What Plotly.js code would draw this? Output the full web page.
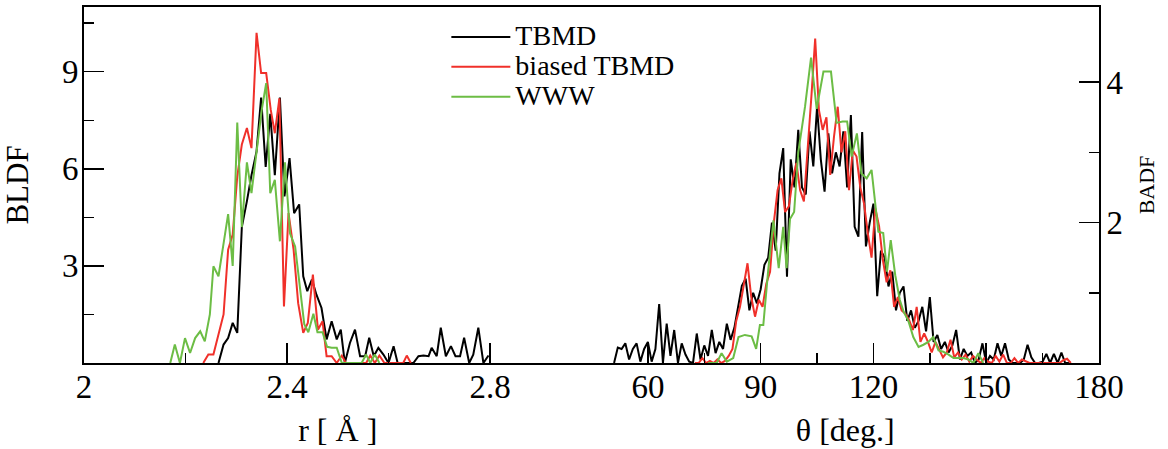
<!DOCTYPE html>
<html>
<head>
<meta charset="utf-8">
<script src="https://cdn.plot.ly/plotly-3.0.1.min.js"></script>
<style>html,body{margin:0;padding:0;background:#fff;}#chart{width:1168px;height:449px;}</style>
</head>
<body>
<div id="chart"></div>
<script>
// ---------- Bond-length distribution (left panel) ----------
var seriesNames = ["TBMD", "biased TBMD", "WWW"];
var seriesColors = ["#000000", "#f0302a", "#6cbd45"];

var bl_r_TBMD = [2.265,2.275,2.284,2.293,2.302,2.311,2.321,2.330,2.340,2.349,2.358,2.367,2.376,2.386,2.395,2.405,2.414,2.424,2.432,2.440,2.449,2.458,2.468,2.478,2.488,2.498,2.506,2.514,2.524,2.534,2.544,2.554,2.562,2.571,2.580,2.590,2.600,2.610,2.618,2.629,2.639,2.649,2.659,2.669,2.679,2.685,2.695,2.703,2.713,2.723,2.732,2.741,2.749,2.759,2.767,2.777,2.787,2.797];
var bl_y_TBMD = [0,0.57,0.77,1.24,0.93,4.2,5.0,5.8,6.54,8.2,6.06,7.7,5.8,8.2,5.15,6.33,4.63,4.9,2.68,2.22,2.58,2.11,1.70,0.73,1.29,0.73,1.03,0,0.62,1.03,0.21,0.21,0.78,0.21,0.47,0.26,0,0.52,0,0,0,0,0.21,0.23,0.21,0.47,0.21,1.09,0.21,0.52,0.21,0.21,0.78,0,0.26,1.09,0,0.23];

var bl_r_biased = [2.235,2.245,2.255,2.265,2.275,2.284,2.293,2.302,2.311,2.321,2.330,2.340,2.349,2.359,2.368,2.376,2.385,2.394,2.403,2.413,2.422,2.432,2.441,2.451,2.461,2.470,2.478,2.488,2.498,2.508,2.516,2.527,2.537,2.547,2.556,2.564,2.573,2.582,2.592,2.601,2.611,2.620,2.629,2.636,2.644];
var bl_y_biased = [0,0.26,0.26,0.93,1.5,3.5,3.97,5.77,6.75,7.26,6.64,10.2,8.96,8.96,7.82,7.1,8.18,1.75,4.63,3.5,1.85,0.93,1.24,2.73,1.03,1.29,0.21,0.21,0,0.23,0,0,0,0,0,0.23,0,0.23,0,0,0,0,0,0.23,0];

var bl_r_WWW = [2.170,2.179,2.189,2.199,2.209,2.219,2.229,2.238,2.248,2.255,2.265,2.275,2.284,2.293,2.302,2.311,2.321,2.330,2.340,2.350,2.359,2.367,2.376,2.386,2.396,2.406,2.416,2.426,2.434,2.442,2.452,2.460,2.470,2.479,2.488,2.498,2.508,2.518,2.527,2.537,2.547,2.556,2.564,2.573,2.582];
var bl_y_WWW = [0,0.57,0,0.77,0.31,0.77,0.98,0.67,1.5,2.99,2.68,3.7,4.6,3.0,7.43,4.2,6.2,5.25,6.6,7.8,8.65,5.25,5.66,3.76,6.2,4.0,3.6,2.3,1.2,0.95,1.52,0.95,0.95,0.5,0.47,0.47,0,0,0,0,0,0.26,0,0.26,0];

// ---------- Bond-angle distribution (right panel) ----------
var ba_t_TBMD = [51,52,53,54,55,56,57,58,59,60,61,62,63,64,65,66,67,68,69,70,71,72,73,74,75,76,77,78,79,80,81,82,83,84,85,86,87,88,89,90,91,92,93,94,95,96,97,98,99,100,101,102,103,104,105,106,107,108,109,110,111,112,113,114,115,116,117,118,119,120,121,122,123,124,125,126,127,128,129,130,131,132,133,134,135,136,137,138,139,140,141,142,143,144,145,146,147,148,149,150,151,152,153,154,155,156,157,158,159,160,161,162,163,164,165,166,167,168,169,170,171,172];
var ba_y_TBMD = [0,0.22,0.2,0.28,0.05,0.2,0.28,0.02,0.2,0.3,0.02,0.2,0.84,0,0.56,0.1,0.47,0,0.28,0.12,0.02,0,0.42,0.05,0.25,0.1,0.47,0.14,0.3,0.2,0.56,0.33,0.5,0.8,1.1,1.2,0.75,1.0,0.85,1.05,1.4,1.5,2.0,1.6,2.7,3.06,1.23,2.9,2.5,3.32,2.5,2.4,3.3,2.8,3.65,2.9,2.44,3.27,2.7,3.0,2.8,3.3,2.5,3.53,1.94,1.8,3.29,1.66,2.0,2.27,0.95,1.6,1.5,1.09,1.3,0.75,1.0,1.09,0.6,0.75,0.5,0.6,0.8,0.45,0.94,0.3,0.4,0.2,0.3,0.15,0.25,0.47,0.05,0.2,0.1,0.15,0,0.05,0.28,0,0.1,0.05,0.28,0.1,0.28,0.05,0,0,0,0.05,0.26,0.08,0,0,0.02,0.13,0,0.13,0,0.15,0,0];

var ba_t_biased = [72.5,73.5,74.5,75.5,76.5,77.5,78.5,79.5,80.5,81.5,82.5,83.5,84.5,85.5,86.5,87.5,88.5,89.5,90.5,91.5,92.5,93.5,94.5,95.5,96.5,97.5,98.5,99.5,100.5,101.5,102.5,103.5,104.5,105.5,106.5,107.5,108.5,109.5,110.5,111.5,112.5,113.5,114.5,115.5,116.5,117.5,118.5,119.5,120.5,121.5,122.5,123.5,124.5,125.5,126.5,127.5,128.5,129.5,130.5,131.5,132.5,133.5,134.5,135.5,136.5,137.5,138.5,139.5,140.5,141.5,142.5,143.5,144.5,145.5,146.5,147.5,148.5,149.5,150.5,151.5,152.5,153.5,154.5,155.5,156.5,157.5,158.5,159.5,160.5,161.5,162.5,163.5,164.5,165.5,166.5,167.5,168.5,169.5,170.5,171.5,172.5];
var ba_y_biased = [0,0,0.07,0,0.03,0,0.05,0,0.03,0.1,0.2,0.6,0.8,1.13,1.42,0.94,0.66,0.9,0.8,1.13,1.3,2.0,2.46,2.63,2.15,2.23,2.6,2.85,2.46,2.3,3.13,3.8,4.62,3.6,3.32,3.5,2.68,3.22,3.65,3.0,3.3,2.46,3.03,2.94,2.5,2.27,1.85,1.5,2.2,1.95,1.47,1.15,1.32,0.8,0.94,0.75,0.7,0.61,0.47,0.8,0.3,0.42,0.3,0.15,0.3,0.18,0.08,0.15,0.33,0.08,0.15,0.05,0.12,0.02,0.1,0.05,0,0.07,0.02,0,0.1,0.02,0.12,0,0,0.07,0,0.05,0.02,0,0,0,0,0,0,0,0,0,0.04,0.06,0];

var ba_t_WWW = [76.0,78.3,79.6,81.0,82.7,84.1,85.8,87.6,88.8,89.8,90.7,92.0,93.4,94.8,96.0,96.9,97.8,98.9,100.0,101.8,103.4,104.9,106.7,108.7,110.2,111.8,113.0,114.2,115.6,116.8,118.2,119.5,121.3,122.6,123.6,124.6,125.8,127.0,128.1,129.3,130.6,132.0,133.3,134.6,135.9,137.3,138.6,140.0,141.3,142.6,143.9,145.3,146.6,147.9,149.2];
var ba_y_WWW = [0,0,0.14,0.02,0.07,0.37,0.40,0.38,0.2,0.54,0.54,1.32,2.03,1.35,1.94,1.35,2.05,2.15,3.0,3.65,4.35,3.62,4.15,4.15,3.42,3.44,3.44,2.94,3.27,2.7,2.63,2.75,1.87,1.85,1.3,1.75,1.25,0.9,0.72,0.6,0.37,0.23,0.26,0.3,0.37,0.18,0.16,0.12,0.07,0.07,0.07,0.05,0,0.14,0];

// ---------- Axis ticks / labels ----------
var rTickVals = [2, 2.4, 2.8];
var rMinorVals = [2.2, 2.6, 3.0];
var tTickVals = [60, 90, 120, 150, 180];
var tMinorVals = [45, 75, 105, 135, 165];
var bldfTickVals = [3, 6, 9];
var bldfMinorVals = [1.5, 4.5, 7.5, 10.5];
var badfTickVals = [2, 4];
var badfMinorVals = [1, 3];

var FONT = "Liberation Serif";

var leftX = [bl_r_TBMD, bl_r_biased, bl_r_WWW];
var leftY = [bl_y_TBMD, bl_y_biased, bl_y_WWW];
var rightX = [ba_t_TBMD, ba_t_biased, ba_t_WWW];
var rightY = [ba_y_TBMD, ba_y_biased, ba_y_WWW];

var traces = [];
for (var i = 0; i < 3; i++) {
  traces.push({
    type: "scatter", mode: "lines", x: leftX[i], y: leftY[i],
    xaxis: "x", yaxis: "y",
    name: '<span style="font-size:28px">' + seriesNames[i] + '</span>',
    legendgroup: "g" + i, showlegend: true,
    line: {color: seriesColors[i], width: 2}
  });
}
for (var j = 0; j < 3; j++) {
  traces.push({
    type: "scatter", mode: "lines", x: rightX[j], y: rightY[j],
    xaxis: "x2", yaxis: "y2",
    name: seriesNames[j], legendgroup: "g" + j, showlegend: false,
    line: {color: seriesColors[j], width: 2}
  });
}

function xAxis(domain, range, tv, mv, title, anchor) {
  return {
    domain: domain, range: range, anchor: anchor,
    tickmode: "array", tickvals: tv, ticks: "inside", ticklen: 20, tickwidth: 1.5, tickcolor: "#000",
    minor: {tickmode: "array", tickvals: mv, ticks: "inside", ticklen: 10, tickwidth: 1.5, tickcolor: "#000", showgrid: false},
    showline: true, linewidth: 2, linecolor: "#000", mirror: true,
    showgrid: false, zeroline: false,
    tickfont: {family: FONT, size: 33, color: "#000"},
    ticklabelstandoff: -7,
    title: {text: title, font: {family: FONT, size: 32, color: "#000"}, standoff: 15}
  };
}

var layout = {
  width: 1168, height: 449,
  margin: {l: 84, r: 69, t: 7, b: 86},
  paper_bgcolor: "#fff", plot_bgcolor: "#fff",
  showlegend: true,
  legend: {x: 0.357, y: 0.972, xanchor: "left", yanchor: "top",
           font: {family: FONT, size: 20.7, color: "#000"},
           itemwidth: 59, bgcolor: "rgba(0,0,0,0)", borderwidth: 0, tracegroupgap: 0},
  xaxis: xAxis([0, 0.5], [2, 3], rTickVals, rMinorVals, "r [ Å ]", "y"),
  xaxis2: xAxis([0.5, 1], [45, 180], tTickVals, tMinorVals, "θ [deg.]", "y2"),
  yaxis: {
    domain: [0, 1], range: [0, 11], anchor: "x", side: "left",
    tickmode: "array", tickvals: bldfTickVals, ticks: "inside", ticklen: 20, tickwidth: 1.5, tickcolor: "#000",
    minor: {tickmode: "array", tickvals: bldfMinorVals, ticks: "inside", ticklen: 10, tickwidth: 1.5, tickcolor: "#000", showgrid: false},
    showline: true, linewidth: 2, linecolor: "#000", mirror: false,
    showgrid: false, zeroline: false,
    tickfont: {family: FONT, size: 33, color: "#000"},
    ticklabelstandoff: -3,
    title: {text: "BLDF", font: {family: FONT, size: 31, color: "#000"}, standoff: 29}
  },
  yaxis2: {
    domain: [0, 1], range: [0, 5.07], anchor: "x2", side: "right",
    tickmode: "array", tickvals: badfTickVals, ticks: "inside", ticklen: 20, tickwidth: 1.5, tickcolor: "#000",
    minor: {tickmode: "array", tickvals: badfMinorVals, ticks: "inside", ticklen: 10, tickwidth: 1.5, tickcolor: "#000", showgrid: false},
    showline: true, linewidth: 2, linecolor: "#000", mirror: false,
    showgrid: false, zeroline: false,
    tickfont: {family: FONT, size: 33, color: "#000"},
    ticklabelstandoff: -1,
    title: {text: "BADF", font: {family: FONT, size: 22, color: "#000"}, standoff: 17}
  }
};

Plotly.newPlot("chart", traces, layout, {displayModeBar: false, staticPlot: true});
</script>
</body>
</html>
